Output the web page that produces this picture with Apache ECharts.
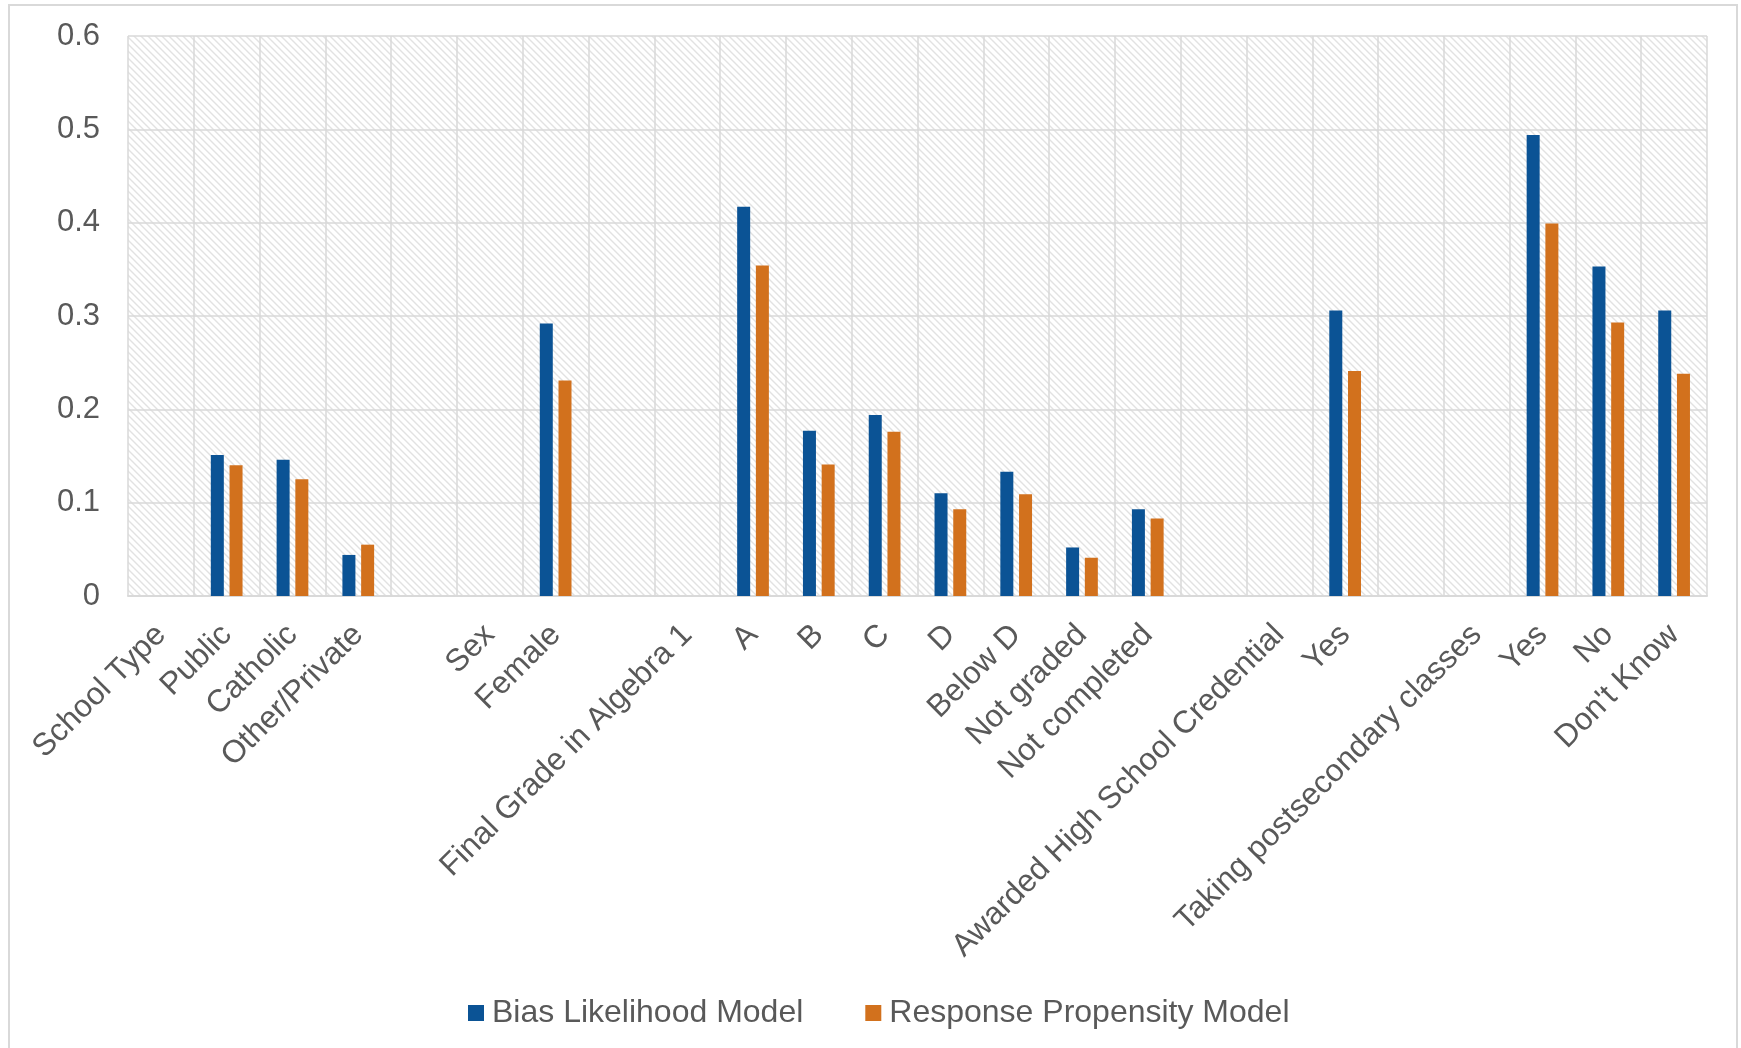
<!DOCTYPE html>
<html>
<head>
  <meta charset="utf-8">
  <script src="https://cdn.jsdelivr.net/npm/echarts@6/dist/echarts.min.js"></script>
  <style>
    html, body { margin: 0; padding: 0; background: #fff; }
  </style>
</head>
<body>
<div id="main" style="width:1741px;height:1048px;"></div>
<script type="text/javascript">
var categories = [
  'School Type', 'Public', 'Catholic', 'Other/Private', '',
  'Sex', 'Female', ' ',
  'Final Grade in Algebra 1', 'A', 'B', 'C', 'D', 'Below D', 'Not graded', 'Not completed', '  ',
  'Awarded High School Credential', 'Yes', '   ',
  'Taking postsecondary classes', 'Yes', 'No', "Don't Know"
];

var biasLikelihood = [
  null, 0.151, 0.146, 0.044, null,
  null, 0.292, null,
  null, 0.417, 0.177, 0.194, 0.110, 0.133, 0.052, 0.093, null,
  null, 0.306, null,
  null, 0.494, 0.353, 0.306
];

var responsePropensity = [
  null, 0.140, 0.125, 0.055, null,
  null, 0.231, null,
  null, 0.354, 0.141, 0.176, 0.093, 0.109, 0.041, 0.083, null,
  null, 0.241, null,
  null, 0.399, 0.293, 0.238
];

var seriesNames = ['Bias Likelihood Model', 'Response Propensity Model'];

// diagonal hatch used for the plot background
var hatch = document.createElement('canvas');
hatch.width = 7;
hatch.height = 7;
var ctx = hatch.getContext('2d');
ctx.fillStyle = '#ffffff';
ctx.fillRect(0, 0, 7, 7);
ctx.strokeStyle = '#e2e2e2';
ctx.lineWidth = 1.4;
ctx.beginPath();
ctx.moveTo(-1, -1); ctx.lineTo(8, 8);
ctx.moveTo(-5, 2); ctx.lineTo(5, 12);
ctx.moveTo(2, -5); ctx.lineTo(12, 5);
ctx.stroke();

var textColor = '#595959';
var lineColor = '#d9d9d9';

var myChart = echarts.init(document.getElementById('main'));
myChart.setOption({
  animation: false,
  textStyle: { fontFamily: 'Liberation Sans, Arial, sans-serif' },
  graphic: [{
    type: 'rect',
    shape: { x: 9, y: 5, width: 1728, height: 1070 },
    style: { fill: 'none', stroke: lineColor, lineWidth: 2 },
    silent: true
  }],
  grid: {
    left: 128,
    right: 34,
    top: 36,
    bottom: 452,
    show: true,
    backgroundColor: { image: hatch, repeat: 'repeat' },
    borderWidth: 0
  },
  legend: {
    bottom: 14,
    left: 463,
    itemWidth: 16,
    itemHeight: 16,
    itemGap: 62,
    icon: 'rect',
    textStyle: { color: textColor, fontSize: 32, padding: [0, 0, 0, 3] },
    data: seriesNames
  },
  xAxis: {
    type: 'category',
    data: categories,
    axisLine: { lineStyle: { color: lineColor, width: 2 } },
    axisTick: { show: false },
    splitLine: { show: true, lineStyle: { color: lineColor, width: 1.5 } },
    axisLabel: {
      interval: 0,
      rotate: 45,
      margin: 34,
      color: textColor,
      fontSize: 31.5
    }
  },
  yAxis: {
    type: 'value',
    min: 0,
    max: 0.6,
    interval: 0.1,
    axisLine: { show: false },
    axisTick: { show: false },
    splitLine: { lineStyle: { color: lineColor, width: 1.5 } },
    axisLabel: { color: textColor, fontSize: 31, margin: 28 }
  },
  series: [
    {
      name: seriesNames[0],
      type: 'bar',
      data: biasLikelihood,
      barWidth: 13,
      barGap: '44%',
      itemStyle: { color: '#0B5395' }
    },
    {
      name: seriesNames[1],
      type: 'bar',
      data: responsePropensity,
      barWidth: 13,
      itemStyle: { color: '#D2711D' }
    }
  ]
});
</script>
</body>
</html>
